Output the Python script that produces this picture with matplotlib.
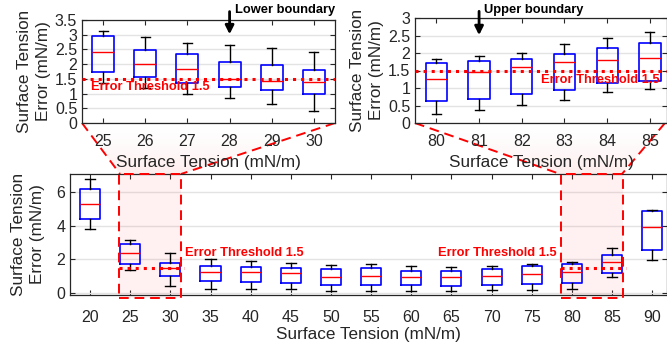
import numpy as np
import matplotlib
matplotlib.use("Agg")
import matplotlib.pyplot as plt
from matplotlib.patches import Polygon, Rectangle
from matplotlib.ticker import FuncFormatter

plt.rcParams['font.family'] = ['Liberation Sans', 'DejaVu Sans']

# ---- data ----
zoom_low_labels = ['25', '26', '27', '28', '29', '30']
zoom_low_whislo = [1.37, 1.20, 1.00, 0.86, 0.63, 0.40]
zoom_low_q1 = [1.73, 1.57, 1.37, 1.23, 1.13, 1.00]
zoom_low_med = [2.42, 2.02, 1.84, 1.50, 1.43, 1.40]
zoom_low_q3 = [2.97, 2.47, 2.33, 2.07, 1.97, 1.80]
zoom_low_whishi = [3.13, 2.93, 2.73, 2.64, 2.56, 2.42]

zoom_high_labels = ['80', '81', '82', '83', '84', '85']
zoom_high_whislo = [0.26, 0.37, 0.51, 0.66, 0.88, 0.97]
zoom_high_q1 = [0.64, 0.70, 0.84, 0.94, 1.14, 1.21]
zoom_high_med = [1.26, 1.47, 1.59, 1.75, 1.80, 1.86]
zoom_high_q3 = [1.71, 1.77, 1.82, 1.98, 2.15, 2.30]
zoom_high_whishi = [1.84, 1.92, 2.00, 2.25, 2.44, 2.61]

full_labels = ['20', '25', '30', '35', '40', '45', '50', '55', '60', '65',
               '70', '75', '80', '85', '90']
full_whislo = [3.82, 1.37, 0.41, 0.24, 0.24, 0.24, 0.16, 0.16, 0.16, 0.14,
               0.20, 0.20, 0.27, 0.94, 1.94]
full_q1 = [4.41, 1.71, 1.00, 0.75, 0.69, 0.61, 0.47, 0.49, 0.47, 0.41,
           0.51, 0.53, 0.63, 1.22, 2.57]
full_med = [5.29, 2.41, 1.47, 1.25, 1.24, 1.20, 0.98, 1.00, 0.96, 0.94,
            1.00, 1.12, 1.25, 1.86, 3.90]
full_q3 = [6.16, 2.94, 1.78, 1.63, 1.57, 1.47, 1.41, 1.49, 1.33, 1.29,
           1.41, 1.61, 1.71, 2.29, 4.86]
full_whishi = [6.73, 3.14, 2.39, 2.02, 1.90, 1.78, 1.67, 1.71, 1.59, 1.53,
               1.59, 1.76, 1.84, 2.65, 4.94]

threshold = 1.5

W, H = 667, 347
DARK = '#262626'
YLABEL = 'Surface Tension\nError (mN/m)'
XLABEL = 'Surface Tension (mN/m)'
NOTE = 9.3


def px_axes(fig, left, top, right, bottom, **kw):
    return fig.add_axes([left / W, 1 - bottom / H, (right - left) / W, (bottom - top) / H], **kw)


def make_stats(lo, q1, med, q3, hi):
    return [dict(whislo=a, q1=b, med=c, q3=d, whishi=e, fliers=[])
            for a, b, c, d, e in zip(lo, q1, med, q3, hi)]


def draw_boxes(ax, stats, widths, capwidths):
    pos = np.arange(1, len(stats) + 1)
    ax.bxp(stats, positions=pos, widths=widths, capwidths=capwidths,
           showfliers=False, manage_ticks=False,
           boxprops=dict(color='blue', linewidth=1.2),
           medianprops=dict(color='red', linewidth=1.0),
           whiskerprops=dict(color='black', linewidth=1.0, linestyle='-'),
           capprops=dict(color='black', linewidth=1.0), zorder=3)
    return pos


def style(ax, xpad, xlpad, ypad):
    ax.tick_params(direction='in', length=3.5, top=True, right=True,
                   labelsize=11.5, colors=DARK, width=0.8)
    ax.tick_params(axis='x', pad=xpad)
    for s in ax.spines.values():
        s.set_color(DARK)
        s.set_linewidth(0.9)
    ax.yaxis.grid(True, color='#e3e3e3', linewidth=1.0)
    ax.set_axisbelow(True)
    ax.set_xlabel(XLABEL, fontsize=12.3, color=DARK, labelpad=xlpad)
    ax.set_ylabel(YLABEL, fontsize=12.3, color=DARK, labelpad=ypad,
                  linespacing=1.35)


fmt = FuncFormatter(lambda v, p: f'{v:g}')

fig = plt.figure(figsize=(W / 100, H / 100), dpi=100)

# background layer for the zoom funnels
bg = fig.add_axes([0, 0, 1, 1], zorder=-1)
bg.axis('off')
alpha_ramp = 0.09 * np.linspace(0, 1, 100) ** 1.5
pink = np.zeros((100, 1, 4))
pink[:, 0, 0] = 0.95
pink[:, 0, 1] = 0.2
pink[:, 0, 2] = 0.2
pink[:, 0, 3] = alpha_ramp
for verts in ([(82, 123), (335, 123), (181, 174), (120, 174)],
              [(415, 123), (665, 123), (622, 174), (560, 174)]):
    poly = Polygon(verts, closed=True, facecolor='none', edgecolor='none')
    bg.add_patch(poly)
    im = bg.imshow(pink, extent=(0, W, 123, 174), aspect='auto',
                   interpolation='bilinear', origin='lower')
    im.set_clip_path(poly)
    (a, b, c, d) = verts
    bg.plot([a[0], d[0]], [a[1], d[1]], color='red', ls=(0, (5, 3)), lw=1.4)
    bg.plot([b[0], c[0]], [b[1], c[1]], color='red', ls=(0, (5, 3)), lw=1.4)
bg.set_xlim(0, W)
bg.set_ylim(H, 0)

# ---- top-left: lower boundary zoom ----
ax1 = px_axes(fig, 82, 20, 335, 123)
p1 = draw_boxes(ax1, make_stats(zoom_low_whislo, zoom_low_q1, zoom_low_med,
                                zoom_low_q3, zoom_low_whishi), 0.52, 0.21)
ax1.set_xlim(0.5, 6.5)
ax1.set_ylim(0, 3.5)
ax1.set_xticks(p1)
ax1.set_xticklabels(zoom_low_labels)
ax1.set_yticks(np.arange(0, 3.51, 0.5))
ax1.yaxis.set_major_formatter(fmt)
style(ax1, 8, 4, 3)
ax1.axhline(threshold, color='red', ls=':', lw=2.2, zorder=4)
ax1.text(0.71, 1.22, 'Error Threshold 1.5', color='red', fontsize=NOTE,
         fontweight='bold', va='center', ha='left', zorder=5)
ax1.annotate('', xy=(4, 2.92), xytext=(4, 3.88), annotation_clip=False,
             arrowprops=dict(arrowstyle='-|>,head_width=0.25,head_length=0.5',
                             color='black', lw=2))
ax1.text(4.12, 3.84, 'Lower boundary', fontsize=NOTE, fontweight='bold',
         va='center', ha='left', clip_on=False)

# ---- top-right: upper boundary zoom ----
ax2 = px_axes(fig, 415, 18, 667, 123)
p2 = draw_boxes(ax2, make_stats(zoom_high_whislo, zoom_high_q1, zoom_high_med,
                                zoom_high_q3, zoom_high_whishi), 0.5, 0.21)
ax2.set_xlim(0.5, 6.4)
ax2.set_ylim(0, 3)
ax2.set_xticks(p2)
ax2.set_xticklabels(zoom_high_labels)
ax2.set_yticks(np.arange(0, 3.01, 0.5))
ax2.yaxis.set_major_formatter(fmt)
style(ax2, 8, 4, 3)
ax2.axhline(threshold, color='red', ls=':', lw=2.2, zorder=4)
ax2.text(3.46, 1.22, 'Error Threshold 1.5', color='red', fontsize=NOTE,
         fontweight='bold', va='center', ha='left', zorder=5)
ax2.annotate('', xy=(2, 2.43), xytext=(2, 3.27), annotation_clip=False,
             arrowprops=dict(arrowstyle='-|>,head_width=0.25,head_length=0.5',
                             color='black', lw=2))
ax2.text(2.12, 3.23, 'Upper boundary', fontsize=NOTE, fontweight='bold',
         va='center', ha='left', clip_on=False)

# ---- bottom: full range ----
ax3 = px_axes(fig, 70, 174, 667, 295)
p3 = draw_boxes(ax3, make_stats(full_whislo, full_q1, full_med, full_q3,
                                full_whishi), 0.5, 0.25)
ax3.set_xlim(0.5, 15.37)
ax3.set_ylim(-0.1, 7.05)
ax3.set_xticks(p3)
ax3.set_xticklabels(full_labels)
ax3.set_yticks([0, 2, 4, 6])
style(ax3, 11, 1, 8)

for lo_i, hi_i in ((1, 2), (12, 13)):
    x0 = p3[lo_i] - 0.27
    x1 = p3[hi_i] + 0.27
    ax3.add_patch(Rectangle((x0, -0.25), x1 - x0, 7.3, facecolor=(1, 0.3, 0.3, 0.08),
                            edgecolor='none', zorder=1, clip_on=False))
    ax3.add_patch(Rectangle((x0, -0.25), x1 - x0, 7.3, facecolor='none',
                            edgecolor='red', ls=(0, (5, 3)), lw=1.4, zorder=5,
                            clip_on=False))
    ax3.plot([x0, x1 + 0.08], [threshold, threshold], color='red', ls=':',
             lw=2.2, zorder=4)
ax3.text(3.37, 2.4, 'Error Threshold 1.5', color='red', fontsize=NOTE,
         fontweight='bold', va='center', ha='left', zorder=5)
ax3.text(12.63, 2.4, 'Error Threshold 1.5', color='red', fontsize=NOTE,
         fontweight='bold', va='center', ha='right', zorder=5)

fig.savefig('out.png', dpi=100)
